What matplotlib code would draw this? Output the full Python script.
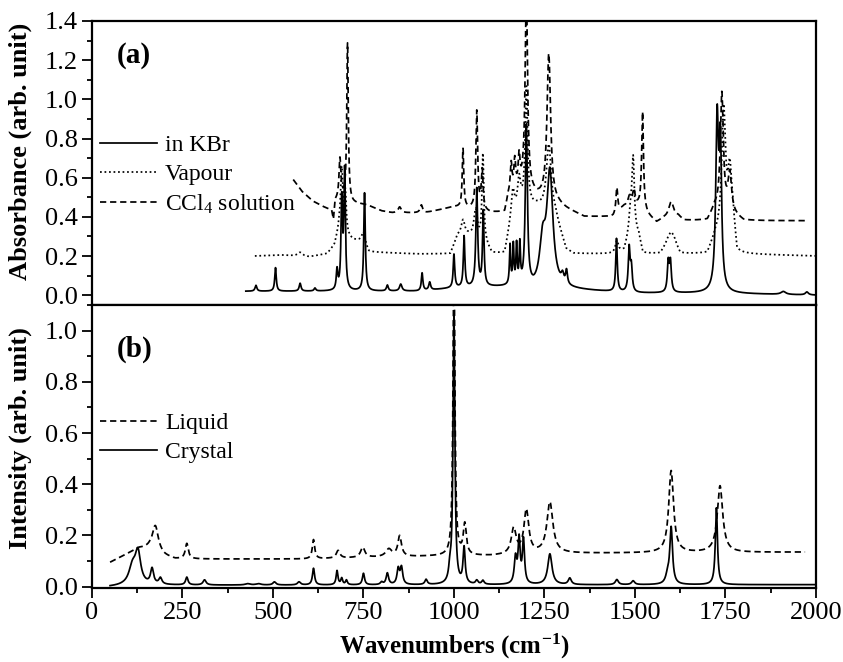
import numpy as np
import matplotlib
matplotlib.use("Agg")
import matplotlib.pyplot as plt
from matplotlib.ticker import MultipleLocator

plt.rcParams['font.family'] = ['Liberation Serif', 'DejaVu Serif']
plt.rcParams['mathtext.fontset'] = 'custom'
plt.rcParams['mathtext.rm'] = 'Liberation Serif'
plt.rcParams['mathtext.bf'] = 'Liberation Serif:bold'
plt.rcParams['mathtext.it'] = 'Liberation Serif:italic'

# ---------------- data ----------------
# (a) IR: in KBr
kbr_range = [425, 2000]
kbr_base_x = [425, 650, 900, 1000, 1100, 1150, 1220, 1300, 1400, 1500, 1700, 2000]
kbr_base_y = [0.02, 0.02, 0.02, 0.035, 0.04, 0.04, 0.02, 0.03, 0.02, 0.01, 0.01, 0.0]
kbr_pos = [453, 507, 575, 616, 677, 690, 698, 753, 816, 853, 912, 933, 1000, 1028, 1063,
           1081, 1155, 1164, 1173, 1182, 1200, 1245, 1265, 1300, 1311, 1449, 1484, 1490,
           1592, 1598, 1727, 1736, 1910, 1975]
kbr_hgt = [0.03, 0.12, 0.04, 0.015, 0.1, 0.45, 0.6, 0.5, 0.03, 0.035, 0.09, 0.04, 0.17, 0.26, 0.5,
           0.38, 0.2, 0.2, 0.2, 0.2, 0.82, 0.22, 0.58, 0.04, 0.07, 0.27, 0.22, 0.12,
           0.15, 0.15, 0.85, 0.7, 0.015, 0.015]
kbr_wid = [3, 2.5, 3, 3, 2.5, 2.5, 2.5, 2.5, 3, 4, 2.5, 3, 2.5, 2.5, 3,
           2.5, 2, 2, 2, 2, 3.5, 10, 10, 4, 3, 2.5, 3, 3,
           3, 3, 4.5, 4, 8, 5]

# (a) IR: Vapour
vap_range = [450, 2000]
vap_base_x = [450, 520, 600, 650, 670, 682, 720, 750, 765, 900, 990, 1010, 1040, 1090, 1105,
              1140, 1160, 1190, 1230, 1280, 1310, 1330, 1440, 1470, 1485, 1510, 1522, 1570,
              1590, 1610, 1625, 1700, 1722, 1770, 1782, 2000]
vap_base_y = [0.2, 0.205, 0.195, 0.21, 0.25, 0.32, 0.28, 0.27, 0.22, 0.21, 0.21, 0.3, 0.3, 0.25, 0.21,
              0.21, 0.4, 0.45, 0.45, 0.4, 0.23, 0.21, 0.21, 0.22, 0.3, 0.3, 0.21, 0.21,
              0.26, 0.26, 0.21, 0.21, 0.3, 0.4, 0.21, 0.2]
vap_pos = [575, 690, 700, 750, 1025, 1060, 1080, 1163, 1180, 1200, 1262, 1450, 1488, 1495,
           1600, 1745, 1762]
vap_hgt = [0.02, 0.33, 0.2, 0.05, 0.08, 0.15, 0.45, 0.12, 0.15, 0.6, 0.35, 0.06, 0.1, 0.38,
           0.06, 0.6, 0.25]
vap_wid = [8, 4, 3, 6, 6, 6, 3, 5, 5, 4, 8, 5, 5, 4,
           10, 6, 6]

# (a) IR: CCl4 solution
ccl_range = [556, 1970]
ccl_base_x = [556, 580, 610, 640, 662, 667, 672, 690, 720, 760, 800, 830, 870, 920, 1000, 1050,
              1100, 1140, 1150, 1190, 1230, 1290, 1310, 1360, 1440, 1470, 1510, 1540, 1560,
              1580, 1620, 1635, 1700, 1720, 1780, 1800, 1970]
ccl_base_y = [0.59, 0.53, 0.48, 0.45, 0.43, 0.38, 0.48, 0.5, 0.47, 0.46, 0.43, 0.42, 0.42, 0.42,
              0.45, 0.44, 0.42, 0.42, 0.5, 0.55, 0.5, 0.46, 0.44, 0.40, 0.40, 0.45, 0.45, 0.40,
              0.37, 0.39, 0.40, 0.38, 0.38, 0.44, 0.40, 0.38, 0.38]
ccl_pos = [685, 706, 850, 910, 1025, 1063, 1078, 1158, 1168, 1180, 1200, 1262, 1450, 1485,
           1497, 1521, 1600, 1740, 1762]
ccl_hgt = [0.2, 0.8, 0.03, 0.04, 0.3, 0.5, 0.2, 0.15, 0.15, 0.15, 1.0, 0.75, 0.13, 0.05,
           0.08, 0.5, 0.08, 0.6, 0.2]
ccl_wid = [3, 2.5, 5, 4, 2.5, 3, 3, 3, 3, 3, 4, 6, 3, 5,
           4, 3, 8, 5, 6]

# (b) Raman: Liquid
liq_range = [50, 1970]
liq_base_x = [50, 100, 130, 160, 200, 230, 600, 800, 990, 1100, 1300, 1970]
liq_base_y = [0.095, 0.13, 0.15, 0.15, 0.12, 0.108, 0.108, 0.115, 0.12, 0.12, 0.13, 0.135]
liq_pos = [175, 262, 612, 680, 748, 820, 850, 1000, 1030, 1165, 1200, 1265, 1600, 1735]
liq_hgt = [0.1, 0.06, 0.075, 0.03, 0.04, 0.03, 0.08, 1.2, 0.12, 0.1, 0.17, 0.2, 0.32, 0.26]
liq_wid = [10, 5, 4, 6, 7, 10, 6, 3, 5, 8, 8, 10, 8, 9]

# (b) Raman: Crystal
cry_range = [50, 2000]
cry_base_x = [50, 85, 200, 2000]
cry_base_y = [0.0, 0.003, 0.006, 0.008]
cry_pos = [112, 127, 166, 189, 262, 311, 430, 460, 504, 572, 612, 677, 690, 703, 750, 800,
           816, 846, 855, 923, 989, 1000, 1028, 1063, 1080, 1170, 1180, 1192, 1265, 1320,
           1450, 1495, 1590, 1600, 1725]
cry_hgt = [0.07, 0.12, 0.06, 0.025, 0.03, 0.02, 0.005, 0.005, 0.012, 0.012, 0.065, 0.055, 0.025,
           0.018, 0.045, 0.01, 0.045, 0.06, 0.065, 0.02, 0.05, 1.05, 0.14, 0.015, 0.015, 0.1,
           0.17, 0.17, 0.12, 0.025, 0.02, 0.015, 0.03, 0.22, 0.3]
cry_wid = [12, 9, 5, 5, 4, 5, 8, 8, 5, 5, 3.5, 3, 3, 3, 3.5, 4,
           4, 4, 4, 4, 4, 3, 3.5, 4, 4, 4, 3.5, 3.5, 7, 5,
           5, 5, 6, 4.5, 3.5]


def spectrum(rng, bx, by, pos, hgt, wid):
    x = np.arange(rng[0], rng[1] + 0.25, 0.5)
    y = np.interp(x, bx, by)
    for c, h, g in zip(pos, hgt, wid):
        y = y + h / (1.0 + ((x - c) / g) ** 2)
    return x, y


fig = plt.figure(figsize=(8.43, 6.62), dpi=100)
ax1 = fig.add_axes([0.1091, 0.5393, 0.8588, 0.4290])
ax2 = fig.add_axes([0.1091, 0.1118, 0.8588, 0.4275])

lw = 1.25
dot = (0, (1, 1.6))
dash = (0, (3.6, 2.2))

x, y = spectrum(kbr_range, kbr_base_x, kbr_base_y, kbr_pos, kbr_hgt, kbr_wid)
ax1.plot(x, y, color='black', lw=lw, ls='-', label='in KBr')
x, y = spectrum(vap_range, vap_base_x, vap_base_y, vap_pos, vap_hgt, vap_wid)
ax1.plot(x, y, color='black', lw=lw, ls=dot, label='Vapour')
x, y = spectrum(ccl_range, ccl_base_x, ccl_base_y, ccl_pos, ccl_hgt, ccl_wid)
ax1.plot(x, y, color='black', lw=lw, ls=dash, label='CCl$_4$ solution')

x, y = spectrum(liq_range, liq_base_x, liq_base_y, liq_pos, liq_hgt, liq_wid)
ax2.plot(x, y, color='black', lw=lw, ls=dash, label='Liquid')
x, y = spectrum(cry_range, cry_base_x, cry_base_y, cry_pos, cry_hgt, cry_wid)
ax2.plot(x, y, color='black', lw=lw, ls='-', label='Crystal')

for ax in (ax1, ax2):
    ax.set_xlim(0, 2000)
    ax.xaxis.set_major_locator(MultipleLocator(250))
    ax.xaxis.set_minor_locator(MultipleLocator(125))
    ax.yaxis.set_major_locator(MultipleLocator(0.2))
    ax.yaxis.set_minor_locator(MultipleLocator(0.1))
    ax.tick_params(which='both', direction='out', top=False, right=False, width=1.3)
    ax.tick_params(which='major', length=7, labelsize=19, pad=3)
    ax.tick_params(which='minor', length=3.6)
    for s in ax.spines.values():
        s.set_linewidth(1.6)
    ax.yaxis.set_major_formatter(matplotlib.ticker.FormatStrFormatter('%.1f'))

ax1.set_ylim(-0.05, 1.4)
ax2.set_ylim(-0.005, 1.1)
ax1.tick_params(axis='x', labelbottom=False)
ax2.set_xticks(np.arange(0, 2001, 250))

ax1.set_ylabel('Absorbance (arb. unit)', fontsize=19, fontweight='bold')
ax2.set_ylabel('Intensity (arb. unit)', fontsize=19, fontweight='bold')
ax1.yaxis.set_label_coords(-0.083, 0.54)
ax2.yaxis.set_label_coords(-0.083, 0.53)
ax2.set_xlabel(r'$\mathbf{Wavenumbers\ (cm^{-1})}$', fontsize=18, labelpad=6)

ax1.text(0.034, 0.877, '(a)', transform=ax1.transAxes, fontsize=21, fontweight='bold',
         va='center', ha='left')
ax2.text(0.034, 0.845, '(b)', transform=ax2.transAxes, fontsize=21, fontweight='bold',
         va='center', ha='left')

leg_kw = dict(frameon=False, fontsize=17, handlelength=2.4, handletextpad=0.35,
              labelspacing=0.32, borderpad=0, borderaxespad=0, loc='upper left')
ax1.legend(bbox_to_anchor=(0.011, 0.60), **leg_kw)
ax2.legend(bbox_to_anchor=(0.011, 0.62), **leg_kw)

fig.savefig('out.png', dpi=100)
